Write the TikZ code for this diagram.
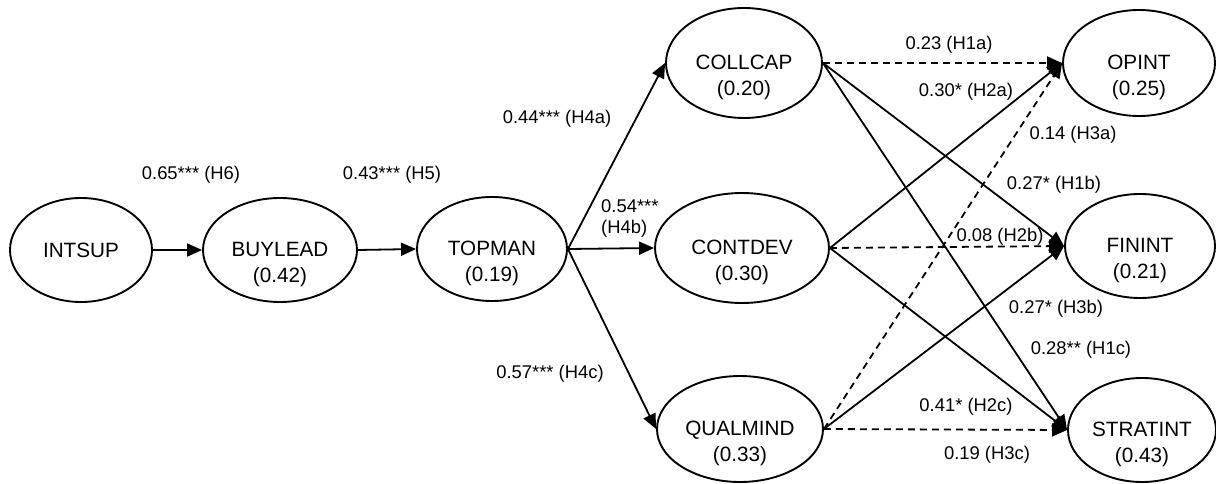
\documentclass[tikz,border=0pt]{standalone}
\usepackage{fontspec}
\setmainfont{Liberation Sans}
\usetikzlibrary{arrows.meta,shapes.geometric}
\begin{document}
\begin{tikzpicture}[x=1pt,y=-1pt,
 ell/.style={draw,ellipse,line width=1.9pt,inner sep=0pt},
 nt/.style={font=\fontsize{20.7}{25.5}\selectfont,align=center,inner sep=0pt},
 lb/.style={font=\fontsize{18.4}{21}\selectfont,inner sep=0pt,anchor=base},
 arr/.style={line width=1.8pt,-{Triangle[length=15pt,width=13pt]}},
 dsh/.style={arr,dash pattern=on 7pt off 5pt}]
\useasboundingbox (0,0) rectangle (1216,484);
% ellipses
\node[ell,minimum width=142pt,minimum height=104pt] (intsup) at (81,250) {};
\node[ell,minimum width=154pt,minimum height=104pt] (buylead) at (280,250) {};
\node[ell,minimum width=150pt,minimum height=104pt] (topman) at (492,249) {};
\node[ell,minimum width=156pt,minimum height=110pt] (collcap) at (744,63) {};
\node[ell,minimum width=174pt,minimum height=110pt] (contdev) at (742,248) {};
\node[ell,minimum width=166pt,minimum height=106pt] (qualmind) at (740,429) {};
\node[ell,minimum width=152pt,minimum height=106pt] (opint) at (1139,63) {};
\node[ell,minimum width=150pt,minimum height=104pt] (finint) at (1140,246) {};
\node[ell,minimum width=148pt,minimum height=104pt] (stratint) at (1142,430) {};
% texts
\node[nt] (t-intsup) at (intsup.center) {INTSUP};
\node[nt,yshift=-14.5pt] (t-buylead) at (buylead.center) {BUYLEAD\\(0.42)};
\node[nt,yshift=-14.5pt] (t-topman) at (topman.center) {TOPMAN\\(0.19)};
\node[nt,yshift=-14.5pt] (t-collcap) at (collcap.center) {COLLCAP\\(0.20)};
\node[nt,yshift=-14.5pt] (t-contdev) at (contdev.center) {CONTDEV\\(0.30)};
\node[nt,yshift=-14.5pt] (t-qualmind) at (qualmind.center) {QUALMIND\\(0.33)};
\node[nt,yshift=-14.5pt] (t-opint) at (opint.center) {OPINT\\(0.25)};
\node[nt,yshift=-14.5pt] (t-finint) at (finint.center) {FININT\\(0.21)};
\node[nt,yshift=-14.5pt] (t-stratint) at (stratint.center) {STRATINT\\(0.43)};
% connectors
\draw[arr] (intsup.east) -- (buylead.west);
\draw[arr] (buylead.east) -- (topman.west);
\draw[arr] (topman.east) -- (collcap.west);
\draw[arr] (topman.east) -- (contdev.west);
\draw[arr] (topman.east) -- (qualmind.west);
\draw[dsh] (collcap.east) -- (opint.west);
\draw[arr] (collcap.east) -- (finint.west);
\draw[arr] (collcap.east) -- (stratint.west);
\draw[arr] (contdev.east) -- (opint.west);
\draw[dsh] (contdev.east) -- (finint.west);
\draw[arr] (contdev.east) -- (stratint.west);
\draw[dsh] (qualmind.east) -- (opint.west);
\draw[arr] (qualmind.east) -- (finint.west);
\draw[dsh] (qualmind.east) -- (stratint.west);
% labels
\node[lb] (l-h6) at (191,179.6) {0.65*** (H6)};
\node[lb] (l-h5) at (392,179.6) {0.43*** (H5)};
\node[lb] (l-h4a) at (557,123.6) {0.44*** (H4a)};
\node[font=\fontsize{18.4}{21}\selectfont,inner sep=0pt,anchor=west,align=left] (l-h4b) at (601,218) {0.54***\\(H4b)};
\node[lb] (l-h4c) at (550,378.6) {0.57*** (H4c)};
\node[lb] (l-h1a) at (949,49.6) {0.23 (H1a)};
\node[lb] (l-h2a) at (966,96.6) {0.30* (H2a)};
\node[lb] (l-h3a) at (1073,139.6) {0.14 (H3a)};
\node[lb] (l-h1b) at (1054,189.6) {0.27* (H1b)};
\node[lb] (l-h2b) at (1000,241.6) {0.08 (H2b)};
\node[lb] (l-h3b) at (1056,313.6) {0.27* (H3b)};
\node[lb] (l-h1c) at (1081,354.6) {0.28** (H1c)};
\node[lb] (l-h2c) at (966,411.6) {0.41* (H2c)};
\node[lb] (l-h3c) at (987,459.6) {0.19 (H3c)};
\end{tikzpicture}
\end{document}
